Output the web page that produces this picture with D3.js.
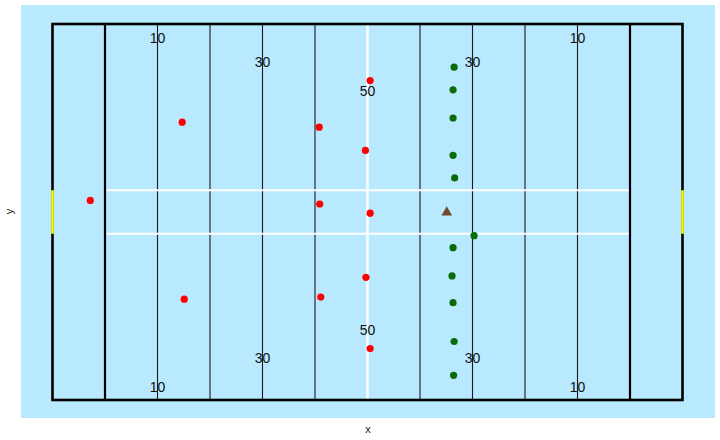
<!DOCTYPE html>
<html>
<head>
<meta charset="utf-8">
<script src="https://cdn.jsdelivr.net/npm/d3@7"></script>
<style>
  html, body { margin: 0; padding: 0; background: #ffffff; }
  svg { display: block; }
  text { font-family: "Liberation Sans", Arial, Helvetica, sans-serif; }
</style>
</head>
<body>
<svg id="chart" width="720" height="440"></svg>
<script>
// ---- data (field coordinates, yards) ----
const redX = [7.2, 24.7, 25.1, 50.8, 50.9, 51.1, 59.6, 59.7, 60.5, 60.5, 60.5];
const redY = [28.3, 39.4, 14.3, 38.7, 27.8, 14.6, 35.4, 17.4, 45.3, 26.5, 7.3];

const greenX = [76.5, 76.3, 76.3, 76.3, 76.6, 80.3, 76.3, 76.1, 76.3, 76.5, 76.4];
const greenY = [47.2, 44.0, 40.0, 34.7, 31.5, 23.3, 21.6, 17.6, 13.8, 8.3, 3.5];

const ballX = [75.1];
const ballY = [26.6];

const yardLineX = [20, 30, 40, 50, 70, 80, 90, 100];
const midfieldX = [60];
const goalLineX = [10, 110];
const hashY = [23.58, 29.75];

const labelText = ["10", "30", "50", "30", "10", "50", "30", "10"];
const labelX = [20, 40, 60, 80, 100, 60, 40, 20];
const labelY = [51.35, 47.95, 43.85, 47.95, 51.35, 9.95, 5.95, 1.85];
const labelX2 = [80, 100];
const labelY2 = [5.95, 1.85];
const labelText2 = ["30", "10"];

const fieldLength = 120;
const fieldWidth = 53.33;

// ---- layout ----
const svg = d3.select("#chart");
const panel = { left: 21, right: 715, top: 5, bottom: 418 };

const x = d3.scaleLinear().domain([0, fieldLength]).range([52.5, 682.5]);
const y = d3.scaleLinear().domain([0, fieldWidth]).range([400, 24]);

// panel background
svg.append("rect")
  .attr("x", panel.left).attr("y", panel.top)
  .attr("width", panel.right - panel.left)
  .attr("height", panel.bottom - panel.top)
  .attr("fill", "#b8e9fe");

const g = svg.append("g");

// yard lines
g.selectAll("line.yard").data(yardLineX).join("line")
  .attr("class", "yard")
  .attr("x1", d => x(d)).attr("x2", d => x(d))
  .attr("y1", y(0)).attr("y2", y(fieldWidth))
  .attr("stroke", "#1a1a1a").attr("stroke-width", 1.1);

// hash lines
g.selectAll("line.hash").data(hashY).join("line")
  .attr("class", "hash")
  .attr("x1", x(goalLineX[0])).attr("x2", x(goalLineX[1]))
  .attr("y1", d => y(d)).attr("y2", d => y(d))
  .attr("stroke", "#ffffff").attr("stroke-width", 2);

// midfield
g.selectAll("line.mid").data(midfieldX).join("line")
  .attr("class", "mid")
  .attr("x1", d => x(d)).attr("x2", d => x(d))
  .attr("y1", y(0)).attr("y2", y(fieldWidth))
  .attr("stroke", "#ffffff").attr("stroke-width", 2.5);

// goal lines
g.selectAll("line.goal").data(goalLineX).join("line")
  .attr("class", "goal")
  .attr("x1", d => x(d)).attr("x2", d => x(d))
  .attr("y1", y(0)).attr("y2", y(fieldWidth))
  .attr("stroke", "#000000").attr("stroke-width", 2.2);

// outer boundary
g.append("rect")
  .attr("x", x(0)).attr("y", y(fieldWidth))
  .attr("width", x(fieldLength) - x(0))
  .attr("height", y(0) - y(fieldWidth))
  .attr("fill", "none").attr("stroke", "#000000").attr("stroke-width", 2.6);

// goal posts
[0, fieldLength].forEach(gx => {
  g.append("line")
    .attr("x1", x(gx)).attr("x2", x(gx))
    .attr("y1", y(hashY[0])).attr("y2", y(hashY[1]))
    .attr("stroke", "#ffff00").attr("stroke-width", 2.6);
});

// yard numbers
const labels = labelText.map((t, i) => ({ t, x: labelX[i], y: labelY[i] }))
  .concat(labelText2.map((t, i) => ({ t, x: labelX2[i], y: labelY2[i] })));
g.selectAll("text.num").data(labels).join("text")
  .attr("class", "num")
  .attr("x", d => x(d.x)).attr("y", d => y(d.y))
  .attr("text-anchor", "middle").attr("dominant-baseline", "central")
  .attr("font-size", 14).attr("fill", "#111111")
  .text(d => d.t);

// red players
g.selectAll("circle.red").data(redX.map((v, i) => [v, redY[i]])).join("circle")
  .attr("class", "red")
  .attr("cx", d => x(d[0])).attr("cy", d => y(d[1]))
  .attr("r", 3.6).attr("fill", "#ff0000");

// green players
g.selectAll("circle.green").data(greenX.map((v, i) => [v, greenY[i]])).join("circle")
  .attr("class", "green")
  .attr("cx", d => x(d[0])).attr("cy", d => y(d[1]))
  .attr("r", 3.6).attr("fill", "#0a6b0a");

// football
const tri = d3.symbol().type(d3.symbolTriangle).size(50);
g.selectAll("path.ball").data(ballX.map((v, i) => [v, ballY[i]])).join("path")
  .attr("class", "ball")
  .attr("transform", d => `translate(${x(d[0])},${y(d[1])})`)
  .attr("d", tri)
  .attr("fill", "#6b4a2e");

// axis titles
svg.append("text")
  .attr("x", (panel.left + panel.right) / 2).attr("y", 433)
  .attr("text-anchor", "middle").attr("font-size", 11).attr("fill", "#1a1a1a")
  .text("x");
svg.append("text")
  .attr("transform", `translate(13, ${(panel.top + panel.bottom) / 2}) rotate(-90)`)
  .attr("text-anchor", "middle").attr("font-size", 11).attr("fill", "#1a1a1a")
  .text("y");
</script>
</body>
</html>
